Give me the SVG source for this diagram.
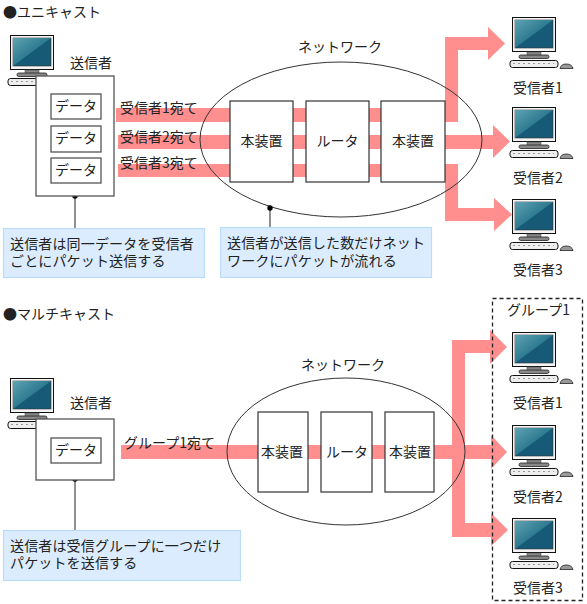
<svg xmlns="http://www.w3.org/2000/svg" xmlns:xlink="http://www.w3.org/1999/xlink" width="587" height="604" viewBox="0 0 587 604">
<style>
text{font-family:"Noto Sans CJK JP","Noto Sans CJK SC",sans-serif;font-size:14px;fill:#222}
.m{text-anchor:middle}
.n{letter-spacing:0.15px}
.box{fill:#fff;stroke:#555;stroke-width:1.3}
.dev{fill:#fff;stroke:#333;stroke-width:1.2}
.net{fill:none;stroke:#333;stroke-width:1}
.band{fill:#ff8f8f}
.note{fill:#dcecff;stroke:#bcdcfb;stroke-width:1.2}
.lead{stroke:#555;stroke-width:1.3;fill:none}
.dot{fill:#000}
.group{fill:none;stroke:#222;stroke-width:1.3;stroke-dasharray:4 3}
</style>
<defs>
<linearGradient id="scr" x1="0" y1="0" x2="1" y2="1"><stop offset="0" stop-color="#5fa3b2"/><stop offset="0.5" stop-color="#2e7a90"/></linearGradient>
<symbol id="pc" overflow="visible" width="70" height="60" viewBox="-3 -1 70 60">
<rect x="0.5" y="0.5" width="43" height="34" fill="#f4f4f4" stroke="#111" stroke-width="1"/>
<rect x="3" y="3" width="38" height="28" fill="#165a78" stroke="#333" stroke-width="0.6"/>
<path d="M3 3H41L3 31Z" fill="url(#scr)"/>
<rect x="15" y="35" width="14" height="5" fill="#888" stroke="#444" stroke-width="0.5"/>
<rect x="7" y="38" width="30" height="3.5" rx="1.7" fill="#888" stroke="#222" stroke-width="0.8"/>
<rect x="-2" y="43.5" width="48" height="7" rx="2.5" fill="#eee" stroke="#111" stroke-width="1"/>
<path d="M1 46.5H42" stroke="#999" stroke-width="1" stroke-dasharray="2 3"/>
<path d="M48 51.5Q49 47 54 47Q60 47 61 51.5Z" fill="#999" stroke="#222" stroke-width="0.8"/>
</symbol>
</defs>
<rect width="587" height="604" fill="#fff"/>

<g id="connectors">
<rect class="band" x="116" y="108" width="329" height="14"/>
<rect class="band" x="118" y="135" width="375" height="14"/>
<rect class="band" x="118" y="164" width="327" height="13"/>
<path class="band" d="M445 122V37H488V27L505 43.5L488 60V50H458V122Z"/>
<path class="band" d="M493 125L510 141.5L493 158Z"/>
<path class="band" d="M445 164H458V208H494V198L512 214.5L494 231V221H445Z"/>
<path class="lead" d="M75 196V228M270 208V227M75 479V530"/>
<ellipse class="net" cx="341" cy="139.5" rx="141" ry="77.5"/>
<rect class="band" x="121" y="445" width="370" height="14"/>
<path class="band" d="M452 537V340H490V330L507 347L490 364V353H465V523H491V513L508 530L491 546V537Z"/>
<path class="band" d="M491 435L507 452L491 469Z"/>
<ellipse class="net" cx="346" cy="451.5" rx="119" ry="73.5"/>
<circle class="dot" cx="75" cy="196" r="2.7"/>
<circle class="dot" cx="270" cy="208" r="2.7"/>
<circle class="dot" cx="75" cy="479" r="2.7"/>
</g>

<g id="title-unicast"><text x="3" y="17">●ユニキャスト</text></g>
<g id="title-multicast"><text x="3" y="319">●マルチキャスト</text></g>

<g id="sender-1">
<use xlink:href="#pc" href="#pc" x="7" y="34"/>
<text x="70" y="68">送信者</text>
<rect class="box" x="36" y="76" width="78" height="120"/>
<rect class="box" x="51" y="94" width="50" height="25"/><text class="m" x="76" y="111">データ</text>
<rect class="box" x="51" y="126" width="50" height="26"/><text class="m" x="76" y="143">データ</text>
<rect class="box" x="51" y="158" width="50" height="25"/><text class="m" x="76" y="175">データ</text>
</g>
<g id="band-labels-1">
<text x="120" y="113">受信者1宛て</text>
<text x="120" y="142">受信者2宛て</text>
<text x="120" y="168">受信者3宛て</text>
</g>
<g id="network-1">
<text class="m" x="340" y="52">ネットワーク</text>
<rect class="dev" x="230" y="101" width="63" height="81"/><text class="m" x="261.5" y="146">本装置</text>
<rect class="dev" x="306" y="101" width="63" height="81"/><text class="m" x="337.5" y="146">ルータ</text>
<rect class="dev" x="381" y="101" width="64" height="81"/><text class="m" x="413" y="146">本装置</text>
</g>
<g id="receiver-1-1"><use xlink:href="#pc" href="#pc" x="509" y="16"/><text x="513" y="93">受信者1</text></g>
<g id="receiver-1-2"><use xlink:href="#pc" href="#pc" x="509" y="106"/><text x="513" y="183">受信者2</text></g>
<g id="receiver-1-3"><use xlink:href="#pc" href="#pc" x="509" y="198"/><text x="513" y="275">受信者3</text></g>
<g id="note-1-1">
<rect class="note" x="3.5" y="228.5" width="201" height="49"/>
<text class="n" x="10" y="249">送信者は同一データを受信者<tspan x="10" y="266">ごとにパケット送信する</tspan></text>
</g>
<g id="note-1-2">
<rect class="note" x="220.5" y="227.5" width="211" height="50"/>
<text class="n" x="227" y="248">送信者が送信した数だけネット<tspan x="227" y="266">ワークにパケットが流れる</tspan></text>
</g>

<g id="sender-2">
<use xlink:href="#pc" href="#pc" x="7" y="377"/>
<text x="70" y="408">送信者</text>
<rect class="box" x="36" y="419" width="78" height="61"/>
<rect class="box" x="51" y="438" width="50" height="25"/><text class="m" x="76" y="455">データ</text>
</g>
<g id="band-label-2"><text x="124" y="448">グループ1宛て</text></g>
<g id="network-2">
<text class="m" x="343" y="370">ネットワーク</text>
<rect class="dev" x="258" y="412" width="50" height="80"/><text class="m" x="282" y="457">本装置</text>
<rect class="dev" x="321" y="412" width="51" height="80"/><text class="m" x="347" y="457">ルータ</text>
<rect class="dev" x="385" y="412" width="49" height="80"/><text class="m" x="410" y="457">本装置</text>
</g>
<g id="group-1">
<rect class="group" x="492.5" y="298.5" width="90" height="302"/>
<text x="507" y="315">グループ1</text>
</g>
<g id="receiver-2-1"><use xlink:href="#pc" href="#pc" x="509" y="331"/><text x="513" y="408">受信者1</text></g>
<g id="receiver-2-2"><use xlink:href="#pc" href="#pc" x="509" y="424"/><text x="513" y="502">受信者2</text></g>
<g id="receiver-2-3"><use xlink:href="#pc" href="#pc" x="509" y="517"/><text x="513" y="593">受信者3</text></g>
<g id="note-2">
<rect class="note" x="3.5" y="530.5" width="237" height="50"/>
<text class="n" x="10" y="551">送信者は受信グループに一つだけ<tspan x="10" y="568">パケットを送信する</tspan></text>
</g>
</svg>
